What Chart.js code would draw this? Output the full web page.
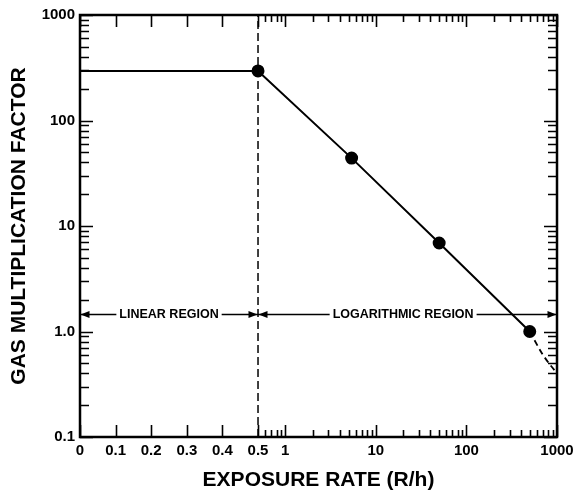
<!DOCTYPE html>
<html>
<head>
<meta charset="utf-8">
<script src="https://cdn.jsdelivr.net/npm/chart.js@4/dist/chart.umd.min.js"></script>
<style>
html,body{margin:0;padding:0;background:#fff;}
#wrap{width:575px;height:490px;}
</style>
</head>
<body>
<div id="wrap"><canvas id="c" width="575" height="490"></canvas></div>
<script>
// ---- data ----
const xMajorTicks  = [0, 0.1, 0.2, 0.3, 0.4, 0.5, 1, 10, 100, 1000];
const xMajorLabels = ['0', '0.1', '0.2', '0.3', '0.4', '0.5', '1', '10', '100', '1000'];
const xMinorTicks  = [0.6, 0.7, 0.8, 0.9, 2, 3, 4, 5, 6, 7, 8, 9, 20, 30, 40, 50, 60, 70, 80, 90, 200, 300, 400, 500, 600, 700, 800, 900];
const yMajorTicks  = [0.1, 1, 10, 100, 1000];
const yMajorLabels = ['0.1', '1.0', '10', '100', '1000'];
const yMinorTicks  = [0.2, 0.3, 0.4, 0.5, 0.6, 0.7, 0.8, 0.9, 2, 3, 4, 5, 6, 7, 8, 9, 20, 30, 40, 50, 60, 70, 80, 90, 200, 300, 400, 500, 600, 700, 800, 900];

const plateauRate    = [0, 0.5];
const plateauFactor  = [295, 295];
const exposureRate   = [0.5, 5.4, 50, 500];
const gasFactor      = [295, 44, 6.9, 1.0];
const rolloffRate    = [500, 700, 1000];
const rolloffFactor  = [1.0, 0.6, 0.4];
const boundaryRate   = [0.5, 0.5];
const boundaryFactor = [0.1, 1000];

const regionNames    = ['LINEAR REGION', 'LOGARITHMIC REGION'];
const regionStart    = [0, 0.5];
const regionEnd      = [0.5, 1000];
const regionTextAt   = [0.25, 20];
const regionFactor   = 1.47;

const LIN_BREAK = 0.5;
const LIN_FRACTION = 0.3732;

// ---- hybrid scale: linear 0..0.5, logarithmic 0.5..1000 ----
class HybridScale extends Chart.LinearScale {
  determineDataLimits() {
    this.min = xMajorTicks[0];
    this.max = xMajorTicks[xMajorTicks.length - 1];
  }
  buildTicks() {
    return xMajorTicks.map(v => ({ value: v }));
  }
  _decimal(value) {
    if (value <= LIN_BREAK) return (value - this.min) / (LIN_BREAK - this.min) * LIN_FRACTION;
    return LIN_FRACTION + Math.log10(value / LIN_BREAK) / Math.log10(this.max / LIN_BREAK) * (1 - LIN_FRACTION);
  }
  getPixelForValue(value) {
    return this.getPixelForDecimal(this._decimal(value));
  }
  getValueForPixel(pixel) {
    const d = this.getDecimalForPixel(pixel);
    if (d <= LIN_FRACTION) return this.min + d / LIN_FRACTION * (LIN_BREAK - this.min);
    return LIN_BREAK * Math.pow(this.max / LIN_BREAK, (d - LIN_FRACTION) / (1 - LIN_FRACTION));
  }
}
HybridScale.id = 'hybrid';
HybridScale.defaults = {};
Chart.register(HybridScale);

const pts = (xs, ys) => xs.map((x, i) => ({ x: x, y: ys[i] }));
const FONT = "'Liberation Sans', Arial, sans-serif";

const decor = {
  id: 'decor',
  afterDatasetsDraw(chart) {
    const { ctx, chartArea: a, scales: { x, y } } = chart;
    ctx.save();
    ctx.strokeStyle = '#000';
    ctx.fillStyle = '#000';
    ctx.lineCap = 'butt';

    // tick marks pointing inward on all four sides
    ctx.lineWidth = 1.6;
    const xTick = (v, len) => {
      const px = Math.round(x.getPixelForValue(v)) + 0.5;
      ctx.beginPath();
      ctx.moveTo(px, a.bottom); ctx.lineTo(px, a.bottom - len);
      ctx.moveTo(px, a.top); ctx.lineTo(px, a.top + len);
      ctx.stroke();
    };
    const yTick = (v, len) => {
      const py = Math.round(y.getPixelForValue(v)) + 0.5;
      ctx.beginPath();
      ctx.moveTo(a.left, py); ctx.lineTo(a.left + len, py);
      ctx.moveTo(a.right, py); ctx.lineTo(a.right - len, py);
      ctx.stroke();
    };
    xMajorTicks.forEach(v => xTick(v, 12));
    xMinorTicks.forEach(v => xTick(v, 7));
    yMajorTicks.forEach(v => yTick(v, 13));
    yMinorTicks.forEach(v => yTick(v, 9));

    // frame
    ctx.lineWidth = 2.5;
    ctx.strokeRect(a.left, a.top, a.right - a.left, a.bottom - a.top);

    // region arrows
    ctx.font = "bold 12.5px " + FONT;
    ctx.textAlign = 'center';
    ctx.textBaseline = 'middle';
    ctx.lineWidth = 1.6;
    const py = Math.round(y.getPixelForValue(regionFactor)) + 0.5;
    const head = (tip, dir) => {
      ctx.beginPath();
      ctx.moveTo(tip, py);
      ctx.lineTo(tip - dir * 9, py - 3.5);
      ctx.lineTo(tip - dir * 9, py + 3.5);
      ctx.closePath();
      ctx.fill();
    };
    regionNames.forEach((name, i) => {
      const x0 = x.getPixelForValue(regionStart[i]);
      const x1 = x.getPixelForValue(regionEnd[i]);
      const xc = x.getPixelForValue(regionTextAt[i]);
      const w = ctx.measureText(name).width;
      ctx.beginPath();
      ctx.moveTo(x0, py); ctx.lineTo(xc - w / 2 - 3, py);
      ctx.moveTo(xc + w / 2 + 3, py); ctx.lineTo(x1, py);
      ctx.stroke();
      head(x0 + 0.5, -1);
      head(x1 - 0.5, 1);
      ctx.fillText(name, xc, py + 0.5);
    });
    ctx.restore();
  }
};

new Chart(document.getElementById('c'), {
  type: 'line',
  data: {
    datasets: [
      { data: pts(plateauRate, plateauFactor), borderColor: '#000', borderWidth: 2, pointRadius: 0, tension: 0 },
      { data: pts(exposureRate, gasFactor), borderColor: '#000', borderWidth: 2, pointRadius: 5.5,
        pointBackgroundColor: '#000', pointBorderColor: '#000', tension: 0 },
      { data: pts(rolloffRate, rolloffFactor), borderColor: '#000', borderWidth: 1.8, borderDash: [6, 4],
        pointRadius: 0, cubicInterpolationMode: 'monotone' },
      { data: pts(boundaryRate, boundaryFactor), borderColor: '#000', borderWidth: 1.5, borderDash: [8, 4],
        pointRadius: 0, tension: 0 }
    ]
  },
  options: {
    responsive: false,
    animation: false,
    devicePixelRatio: 1,
    layout: { padding: { left: 0, right: 18, top: 15, bottom: 0 } },
    plugins: { legend: { display: false }, tooltip: { enabled: false } },
    scales: {
      x: {
        type: 'hybrid',
        position: 'bottom',
        grid: { display: false, drawTicks: false },
        border: { display: false },
        ticks: {
          autoSkip: false, maxRotation: 0, minRotation: 0, padding: 5,
          color: '#000', font: { family: FONT, size: 15, weight: 'bold' },
          callback: (v, i) => xMajorLabels[i]
        },
        title: {
          display: true, text: 'EXPOSURE RATE (R/h)', color: '#000',
          font: { family: FONT, size: 21, weight: 'bold', lineHeight: 0.9 },
          padding: { top: 0, bottom: 0.5 }
        },
        afterFit: s => { s.height = 53; s.paddingLeft = 0; s.paddingRight = 0; }
      },
      y: {
        type: 'logarithmic',
        min: 0.1, max: 1000,
        grid: { display: false, drawTicks: false },
        border: { display: false },
        afterBuildTicks: s => { s.ticks = yMajorTicks.map(v => ({ value: v })); },
        ticks: {
          autoSkip: false, padding: 5,
          color: '#000', font: { family: FONT, size: 15, weight: 'bold' },
          callback: (v) => yMajorLabels[yMajorTicks.indexOf(v)]
        },
        title: {
          display: true, text: 'GAS MULTIPLICATION FACTOR', color: '#000',
          font: { family: FONT, size: 21, weight: 'bold' },
          padding: { top: 7, bottom: 0 }
        },
        afterFit: s => { s.width = 80; s.paddingTop = 0; s.paddingBottom = 0; }
      }
    }
  },
  plugins: [decor]
});
</script>
</body>
</html>
